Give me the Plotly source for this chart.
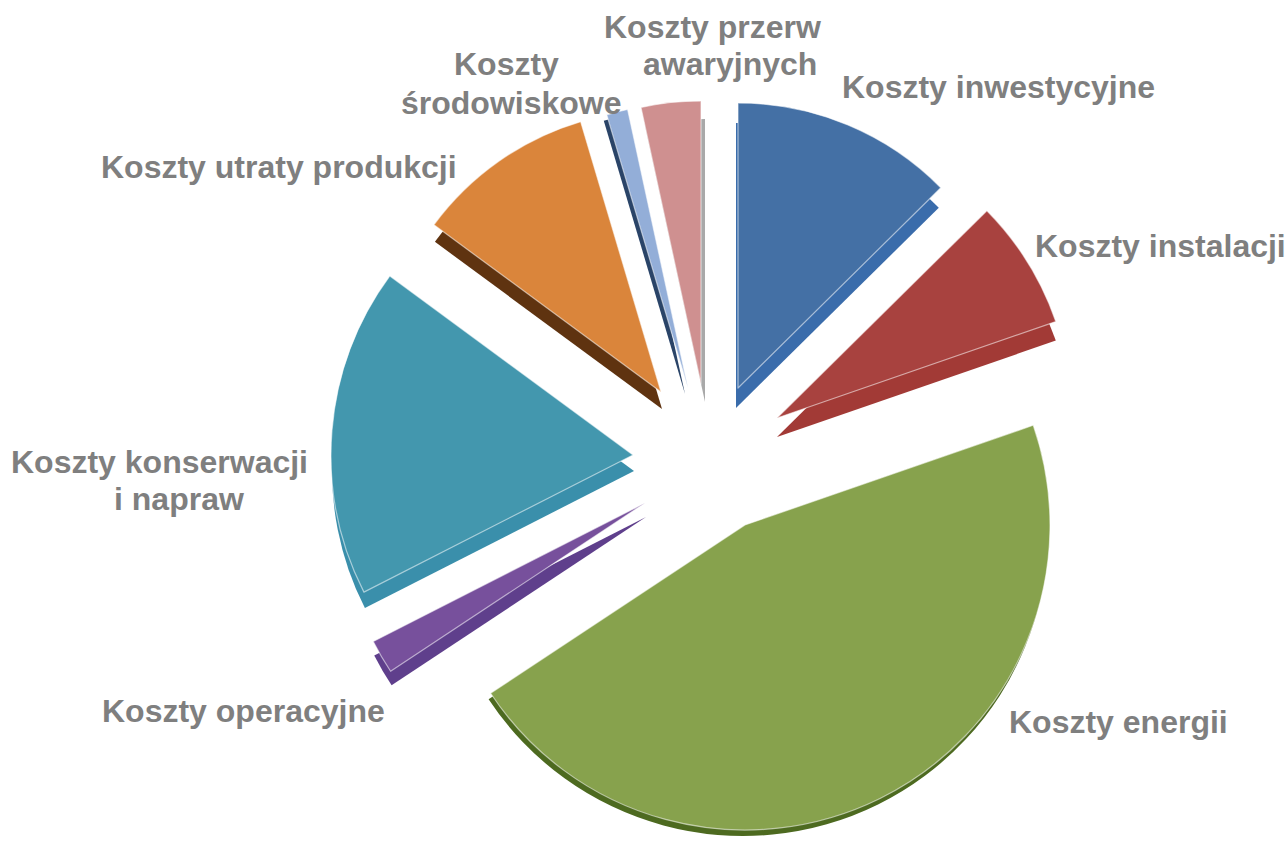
import plotly.graph_objects as go

W, H = 1288, 843

categories = ["Koszty inwestycyjne", "Koszty instalacji", "Koszty energii", "Koszty operacyjne",
              "Koszty konserwacji i napraw", "Koszty utraty produkcji", "Koszty środowiskowe",
              "Koszty przerw awaryjnych"]
shares = [12.6, 7.1, 46.0, 1.8, 17.6, 10.3, 1.2, 3.4]

face_colors = ["#4470a5", "#a8423f", "#87a24d", "#77509c", "#4397ae", "#da853b", "#93aed8", "#cf9090"]
side_colors = ["#3a6cab", "#a23a36", "#4d6a20", "#5f3f8c", "#3a8fab", "#5f3310", "#2a4468", "#a9a9a9"]

# Exploded position of each slice: tip x, tip y and radius in page pixels
slice_tip_x = [738, 777, 745, 645, 633, 661, 688, 701]
slice_tip_y = [388, 418, 525, 503, 455, 392, 388, 384]
slice_radius = [285, 295, 305, 305, 302, 282, 285, 283]
# Offset of the thickness layer below each slice
side_dx = [-2, 0, -2, 1, 1, 1, -3, 4]
side_dy = [20, 19, 6, 14, 16, 17, 6, 18]

# One label line per entry: text, centre x, centre y in page pixels
label_lines = [
    ("Koszty przerw", 712, 27), ("awaryjnych", 730, 64),
    ("Koszty", 506, 64), ("środowiskowe", 511, 103),
    ("Koszty inwestycyjne", 998, 87),
    ("Koszty utraty produkcji", 279, 167),
    ("Koszty instalacji", 1160, 246),
    ("Koszty konserwacji", 159, 462), ("i napraw", 179, 499),
    ("Koszty operacyjne", 243, 711),
    ("Koszty energii", 1118, 722),
]

CLEAR = "rgba(0,0,0,0)"


def single_slice(index, color, cx, cy, r, edge=None):
    """A pie over all shares in which only one slice is painted, so each can sit on its own centre."""
    colors = [color if j == index else CLEAR for j in range(len(shares))]
    edges = [edge if (edge and j == index) else CLEAR for j in range(len(shares))]
    return go.Pie(labels=categories, values=shares, sort=False, direction="clockwise", rotation=0,
                  marker=dict(colors=colors, line=dict(color=edges, width=1.2)), textinfo="none",
                  hoverinfo="skip", showlegend=False,
                  domain=dict(x=[(cx - r) / W, (cx + r) / W], y=[1 - (cy + r) / H, 1 - (cy - r) / H]))


fig = go.Figure()
n = len(shares)
for i in range(n):
    fig.add_trace(single_slice(i, side_colors[i], slice_tip_x[i] + side_dx[i],
                               slice_tip_y[i] + side_dy[i], slice_radius[i]))
for i in range(n):
    fig.add_trace(single_slice(i, face_colors[i], slice_tip_x[i], slice_tip_y[i], slice_radius[i],
                               edge="rgba(255,255,255,0.55)"))

fig.update_layout(
    width=W, height=H, margin=dict(l=0, r=0, t=0, b=0), paper_bgcolor="white",
    annotations=[dict(text=t, x=x / W, y=1 - y / H, xref="paper", yref="paper", showarrow=False,
                      xanchor="center", yanchor="middle",
                      font=dict(family="Liberation Sans", size=32, color="#7f7f7f", weight="bold"))
                 for t, x, y in label_lines],
)

fig.write_html("out.html")
